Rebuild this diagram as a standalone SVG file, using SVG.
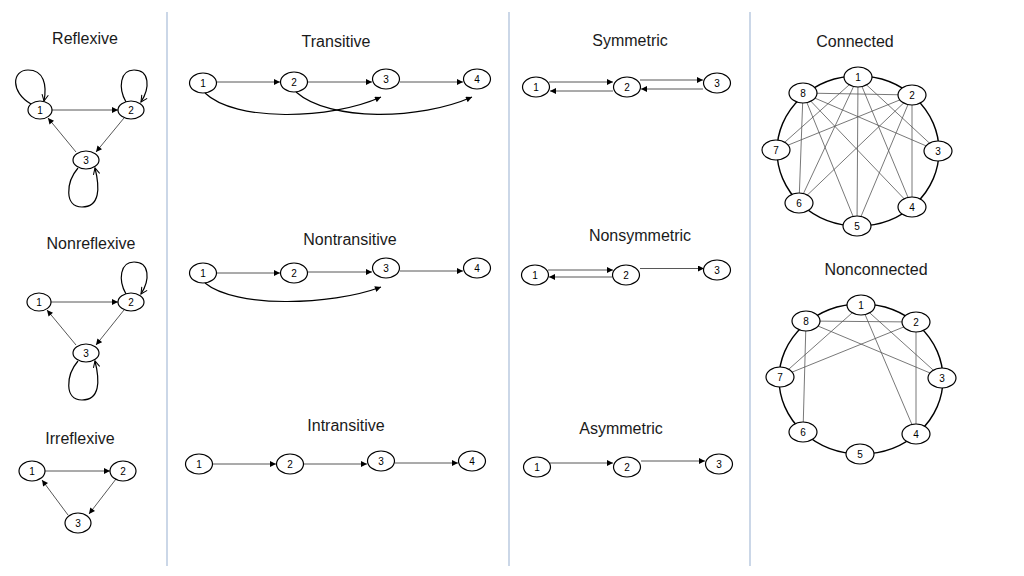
<svg xmlns="http://www.w3.org/2000/svg" width="1024" height="576" viewBox="0 0 1024 576">
<style>
.t{font-family:"Liberation Sans",Arial,sans-serif;font-size:16px;fill:#1a1a1a;text-anchor:middle}
.n ellipse{fill:#fff;stroke:#000;stroke-width:1.2}
.n text{font-family:"Liberation Sans",Arial,sans-serif;font-size:10px;fill:#000;text-anchor:middle}
.e{fill:none;stroke:#444;stroke-width:0.9;marker-end:url(#a)}
.c{fill:none;stroke:#000;stroke-width:1.2;marker-end:url(#a)}
.l{fill:none;stroke:#000;stroke-width:1.2;marker-end:url(#o)}
.g{fill:none;stroke:#555;stroke-width:0.8}
.ring{fill:none;stroke:#000;stroke-width:1.4}
.sep{stroke:#a8bcd8;stroke-width:1.2}
</style>
<defs>
<marker id="a" viewBox="0 0 10 10" refX="10" refY="5" markerWidth="7" markerHeight="6" markerUnits="userSpaceOnUse" orient="auto"><path d="M0,0L10,5L0,10z" fill="#000"/></marker>
<marker id="o" viewBox="0 0 10 10" refX="9" refY="5" markerWidth="8" markerHeight="8" markerUnits="userSpaceOnUse" orient="auto"><path d="M1,1L9,5L1,9" fill="none" stroke="#000" stroke-width="1.3"/></marker>
</defs>
<rect width="1024" height="576" fill="#fff"/>
<g id="separators">
<line class="sep" x1="167" y1="12" x2="167" y2="566"/>
<line class="sep" x1="509" y1="12" x2="509" y2="566"/>
<line class="sep" x1="750" y1="12" x2="750" y2="566"/>
</g>
<g id="titles">
<text class="t" x="85" y="44">Reflexive</text>
<text class="t" x="91" y="249">Nonreflexive</text>
<text class="t" x="80" y="444">Irreflexive</text>
<text class="t" x="336" y="47">Transitive</text>
<text class="t" x="350" y="245">Nontransitive</text>
<text class="t" x="346" y="431">Intransitive</text>
<text class="t" x="630" y="46">Symmetric</text>
<text class="t" x="640" y="241">Nonsymmetric</text>
<text class="t" x="621" y="434">Asymmetric</text>
<text class="t" x="855" y="47">Connected</text>
<text class="t" x="876" y="275">Nonconnected</text>
</g>
<g id="connectors">
<!-- Reflexive -->
<path class="e" d="M52,110L118,110"/>
<path class="e" d="M124,118L96,152"/>
<path class="e" d="M76,152L48,118"/>
<path class="l" d="M31,104C10,92 12,70 28,70C44,70 47,85 44,101"/>
<path class="l" d="M126,102C118,88 120,70 134,70C150,70 150,88 141,102"/>
<path class="l" d="M78,168C66,182 64,207 82,207C100,207 100,188 95,168"/>
<!-- Nonreflexive -->
<path class="e" d="M51,302L118,302"/>
<path class="e" d="M124,310L96,345"/>
<path class="e" d="M76,345L47,310"/>
<path class="l" d="M126,294C118,280 120,262 134,262C150,262 150,280 141,294"/>
<path class="l" d="M78,361C66,375 64,400 82,400C100,400 100,381 95,361"/>
<!-- Irreflexive -->
<path class="e" d="M45,471L110,471"/>
<path class="e" d="M116,479L89,514"/>
<path class="e" d="M68,515L42,480"/>
<!-- Transitive -->
<path class="e" d="M217,82L280,82"/>
<path class="e" d="M308,82L372,82"/>
<path class="e" d="M400,82L463,82"/>
<path class="c" d="M205,93C235,122 330,120 381,97"/>
<path class="c" d="M296,92C330,122 420,120 472,97"/>
<!-- Nontransitive -->
<path class="e" d="M217,273L280,273"/>
<path class="e" d="M308,272L372,272"/>
<path class="e" d="M400,271L463,271"/>
<path class="c" d="M205,283C235,308 330,306 381,287"/>
<!-- Intransitive -->
<path class="e" d="M213,464L276,464"/>
<path class="e" d="M304,464L367,464"/>
<path class="e" d="M395,463L458,463"/>
<!-- Symmetric -->
<path class="e" d="M549,82L613,82"/>
<path class="e" d="M613,91L550,91"/>
<path class="e" d="M640,80L703,80"/>
<path class="e" d="M703,89L641,89"/>
<!-- Nonsymmetric -->
<path class="e" d="M548,270L613,270"/>
<path class="e" d="M612,277L549,277"/>
<path class="e" d="M640,268.5L704,268.5"/>
<!-- Asymmetric -->
<path class="e" d="M550,463L613,463"/>
<path class="e" d="M641,461L705,461"/>
<!-- Connected -->
<ellipse class="ring" cx="858" cy="151" rx="81" ry="75"/>
<line class="g" x1="803" y1="93" x2="912" y2="95"/>
<line class="g" x1="858" y1="77" x2="776" y2="150"/>
<line class="g" x1="858" y1="77" x2="799" y2="203"/>
<line class="g" x1="858" y1="77" x2="857" y2="226"/>
<line class="g" x1="858" y1="77" x2="912" y2="207"/>
<line class="g" x1="858" y1="77" x2="938" y2="151"/>
<line class="g" x1="912" y1="95" x2="776" y2="150"/>
<line class="g" x1="912" y1="95" x2="799" y2="203"/>
<line class="g" x1="912" y1="95" x2="857" y2="226"/>
<line class="g" x1="912" y1="95" x2="912" y2="207"/>
<line class="g" x1="803" y1="93" x2="938" y2="151"/>
<line class="g" x1="803" y1="93" x2="912" y2="207"/>
<line class="g" x1="803" y1="93" x2="857" y2="226"/>
<line class="g" x1="803" y1="93" x2="799" y2="203"/>
<!-- Nonconnected -->
<ellipse class="ring" cx="861" cy="379" rx="82" ry="75"/>
<line class="g" x1="806" y1="321" x2="916" y2="322"/>
<line class="g" x1="861" y1="305" x2="780" y2="377"/>
<line class="g" x1="861" y1="305" x2="916" y2="434"/>
<line class="g" x1="861" y1="305" x2="942" y2="378"/>
<line class="g" x1="916" y1="322" x2="780" y2="377"/>
<line class="g" x1="916" y1="322" x2="916" y2="434"/>
<line class="g" x1="806" y1="321" x2="942" y2="378"/>
<line class="g" x1="806" y1="321" x2="803" y2="432"/>
</g>
<g id="reflexive-nodes">
<g id="r1" class="n"><ellipse cx="40" cy="110" rx="12" ry="9"/><text x="40" y="114">1</text></g>
<g id="r2" class="n"><ellipse cx="131" cy="110" rx="13" ry="9"/><text x="131" y="114">2</text></g>
<g id="r3" class="n"><ellipse cx="86" cy="160" rx="13" ry="9"/><text x="86" y="164">3</text></g>
</g>
<g id="nonreflexive-nodes">
<g id="nr1" class="n"><ellipse cx="39" cy="302" rx="12" ry="9"/><text x="39" y="306">1</text></g>
<g id="nr2" class="n"><ellipse cx="131" cy="302" rx="13" ry="9"/><text x="131" y="306">2</text></g>
<g id="nr3" class="n"><ellipse cx="86" cy="353" rx="13" ry="9"/><text x="86" y="357">3</text></g>
</g>
<g id="irreflexive-nodes">
<g id="ir1" class="n"><ellipse cx="32" cy="471" rx="13" ry="10"/><text x="32" y="475">1</text></g>
<g id="ir2" class="n"><ellipse cx="123" cy="471" rx="13" ry="10"/><text x="123" y="475">2</text></g>
<g id="ir3" class="n"><ellipse cx="78" cy="523" rx="13" ry="10"/><text x="78" y="527">3</text></g>
</g>
<g id="transitive-nodes">
<g id="t1" class="n"><ellipse cx="203" cy="83" rx="13.5" ry="10"/><text x="203" y="87">1</text></g>
<g id="t2" class="n"><ellipse cx="294" cy="82" rx="13.5" ry="10"/><text x="294" y="86">2</text></g>
<g id="t3" class="n"><ellipse cx="386" cy="79" rx="13.5" ry="10"/><text x="386" y="83">3</text></g>
<g id="t4" class="n"><ellipse cx="477" cy="79" rx="13.5" ry="10"/><text x="477" y="83">4</text></g>
</g>
<g id="nontransitive-nodes">
<g id="nt1" class="n"><ellipse cx="203" cy="273" rx="13.5" ry="10"/><text x="203" y="277">1</text></g>
<g id="nt2" class="n"><ellipse cx="294" cy="273" rx="13.5" ry="10"/><text x="294" y="277">2</text></g>
<g id="nt3" class="n"><ellipse cx="386" cy="268" rx="13.5" ry="10"/><text x="386" y="272">3</text></g>
<g id="nt4" class="n"><ellipse cx="477" cy="268" rx="13.5" ry="10"/><text x="477" y="272">4</text></g>
</g>
<g id="intransitive-nodes">
<g id="it1" class="n"><ellipse cx="199" cy="464" rx="13.5" ry="10"/><text x="199" y="468">1</text></g>
<g id="it2" class="n"><ellipse cx="290" cy="464" rx="13.5" ry="10"/><text x="290" y="468">2</text></g>
<g id="it3" class="n"><ellipse cx="381" cy="461" rx="13.5" ry="10"/><text x="381" y="465">3</text></g>
<g id="it4" class="n"><ellipse cx="472" cy="461" rx="13.5" ry="10"/><text x="472" y="465">4</text></g>
</g>
<g id="symmetric-nodes">
<g id="s1" class="n"><ellipse cx="536" cy="87" rx="13.5" ry="10"/><text x="536" y="91">1</text></g>
<g id="s2" class="n"><ellipse cx="627" cy="87" rx="13.5" ry="10"/><text x="627" y="91">2</text></g>
<g id="s3" class="n"><ellipse cx="717" cy="83" rx="13.5" ry="10"/><text x="717" y="87">3</text></g>
</g>
<g id="nonsymmetric-nodes">
<g id="ns1" class="n"><ellipse cx="535" cy="275" rx="13.5" ry="10"/><text x="535" y="279">1</text></g>
<g id="ns2" class="n"><ellipse cx="626" cy="275" rx="13.5" ry="10"/><text x="626" y="279">2</text></g>
<g id="ns3" class="n"><ellipse cx="717" cy="270" rx="13.5" ry="10"/><text x="717" y="274">3</text></g>
</g>
<g id="asymmetric-nodes">
<g id="as1" class="n"><ellipse cx="537" cy="467" rx="13.5" ry="10"/><text x="537" y="471">1</text></g>
<g id="as2" class="n"><ellipse cx="627" cy="467" rx="13.5" ry="10"/><text x="627" y="471">2</text></g>
<g id="as3" class="n"><ellipse cx="719" cy="464" rx="13.5" ry="10"/><text x="719" y="468">3</text></g>
</g>
<g id="connected-nodes">
<g id="c1" class="n"><ellipse cx="858" cy="77" rx="14" ry="10"/><text x="858" y="81">1</text></g>
<g id="c2" class="n"><ellipse cx="912" cy="95" rx="14" ry="10"/><text x="912" y="99">2</text></g>
<g id="c3" class="n"><ellipse cx="938" cy="151" rx="14" ry="10"/><text x="938" y="155">3</text></g>
<g id="c4" class="n"><ellipse cx="912" cy="207" rx="14" ry="10"/><text x="912" y="211">4</text></g>
<g id="c5" class="n"><ellipse cx="857" cy="226" rx="14" ry="10"/><text x="857" y="230">5</text></g>
<g id="c6" class="n"><ellipse cx="799" cy="203" rx="14" ry="10"/><text x="799" y="207">6</text></g>
<g id="c7" class="n"><ellipse cx="776" cy="150" rx="14" ry="10"/><text x="776" y="154">7</text></g>
<g id="c8" class="n"><ellipse cx="803" cy="93" rx="14" ry="10"/><text x="803" y="97">8</text></g>
</g>
<g id="nonconnected-nodes">
<g id="u1" class="n"><ellipse cx="861" cy="305" rx="14" ry="10"/><text x="861" y="309">1</text></g>
<g id="u2" class="n"><ellipse cx="916" cy="322" rx="14" ry="10"/><text x="916" y="326">2</text></g>
<g id="u3" class="n"><ellipse cx="942" cy="378" rx="14" ry="10"/><text x="942" y="382">3</text></g>
<g id="u4" class="n"><ellipse cx="916" cy="434" rx="14" ry="10"/><text x="916" y="438">4</text></g>
<g id="u5" class="n"><ellipse cx="860" cy="454" rx="14" ry="10"/><text x="860" y="458">5</text></g>
<g id="u6" class="n"><ellipse cx="803" cy="432" rx="14" ry="10"/><text x="803" y="436">6</text></g>
<g id="u7" class="n"><ellipse cx="780" cy="377" rx="14" ry="10"/><text x="780" y="381">7</text></g>
<g id="u8" class="n"><ellipse cx="806" cy="321" rx="14" ry="10"/><text x="806" y="325">8</text></g>
</g>
</svg>
